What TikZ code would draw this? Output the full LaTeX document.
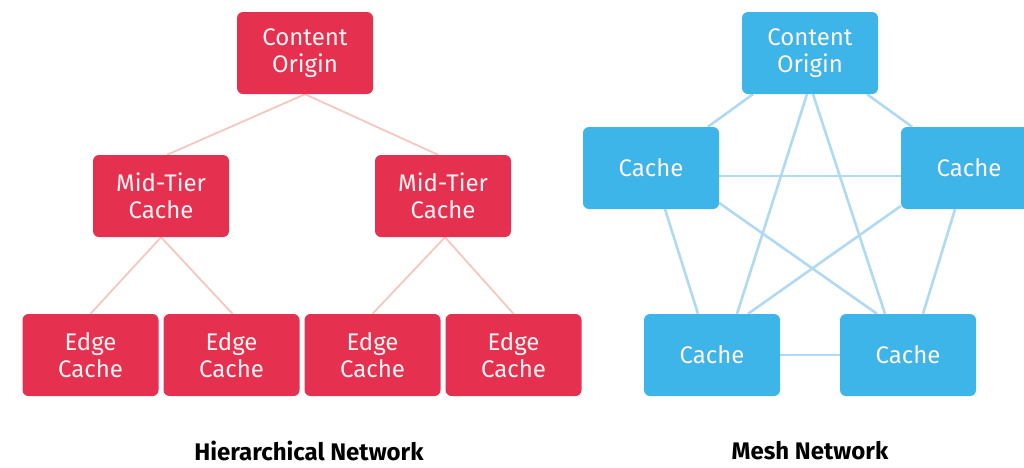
\documentclass[tikz,border=0pt]{standalone}
\usepackage{fontspec}
\setmainfont{Fira Sans}
\usetikzlibrary{backgrounds}
\definecolor{hred}{HTML}{E5304F}
\definecolor{mblue}{HTML}{3DB5E8}
\definecolor{hline}{HTML}{F6C7BF}
\definecolor{mline}{HTML}{B0DAF3}
\definecolor{boxtext}{HTML}{FFF4F4}
\begin{document}
\begin{tikzpicture}[x=1pt,y=-1pt,
  box/.style={rounded corners=6pt, minimum width=136pt, minimum height=82pt,
    inner sep=0pt, align=center, text=boxtext,
    font=\fontsize{24}{26.5}\selectfont},
  redbox/.style={box, fill=hred},
  bluebox/.style={box, fill=mblue},
  hlink/.style={draw=hline, line width=1.8pt},
  mlink/.style={draw=mline, line width=2.6pt},
  title/.style={font=\bfseries\fontsize{24}{28}\selectfont, text=black, inner sep=0pt}]
\clip (0,0) rectangle (1024,467);
\useasboundingbox (0,0) rectangle (1024,467);
% Hierarchical
\node[redbox] (o1) at (305,53) {Content\\Origin};
\node[redbox] (m1) at (161,196) {Mid-Tier\\Cache};
\node[redbox] (m2) at (443,196) {Mid-Tier\\Cache};
\node[redbox] (e1) at (90.5,355) {Edge\\Cache};
\node[redbox] (e2) at (231.5,355) {Edge\\Cache};
\node[redbox] (e3) at (372.5,355) {Edge\\Cache};
\node[redbox] (e4) at (513.5,355) {Edge\\Cache};
% Mesh
\node[bluebox] (o2) at (810,53) {Content\\Origin};
\node[bluebox] (cl) at (651,168) {Cache};
\node[bluebox] (cr) at (969,168) {Cache};
\node[bluebox] (bl) at (712,355) {Cache};
\node[bluebox] (br) at (908,355) {Cache};
\node[title] (t1) at (309,451) {Hierarchical Network};
\node[title] (t2) at (810,451) {Mesh Network};
\begin{scope}[on background layer]
\draw[hlink] (o1.south) -- ([xshift=6pt]m1.north);
\draw[hlink] (o1.south) -- ([xshift=-5pt]m2.north);
\draw[hlink] (m1.south) -- (e1.north);
\draw[hlink] (m1.south) -- ([xshift=1pt]e2.north);
\draw[hlink] ([xshift=2pt]m2.south) -- (e3.north);
\draw[hlink] ([xshift=2pt]m2.south) -- (e4.north);
\draw[mlink] (o2) -- (cl);
\draw[mlink] (o2) -- (cr);
\draw[mlink] ([yshift=-8pt]cl.east) -- ([yshift=-8pt]cr.west);
\draw[mlink] ([xshift=-3pt]o2.south) -- ([xshift=25pt]bl.north);
\draw[mlink] ([xshift=3pt]o2.south) -- ([xshift=-23pt]br.north);
\draw[mlink] ([xshift=14pt]cl.south) -- ([xshift=-14pt]bl.north);
\draw[mlink] ([yshift=-35pt]cl.east) -- ([xshift=-31pt]br.north);
\draw[mlink] ([yshift=-38pt]cr.west) -- ([xshift=36pt]bl.north);
\draw[mlink] ([xshift=-14pt]cr.south) -- ([xshift=15pt]br.north);
\draw[mlink] (bl) -- (br);
\end{scope}
\end{tikzpicture}
\end{document}
